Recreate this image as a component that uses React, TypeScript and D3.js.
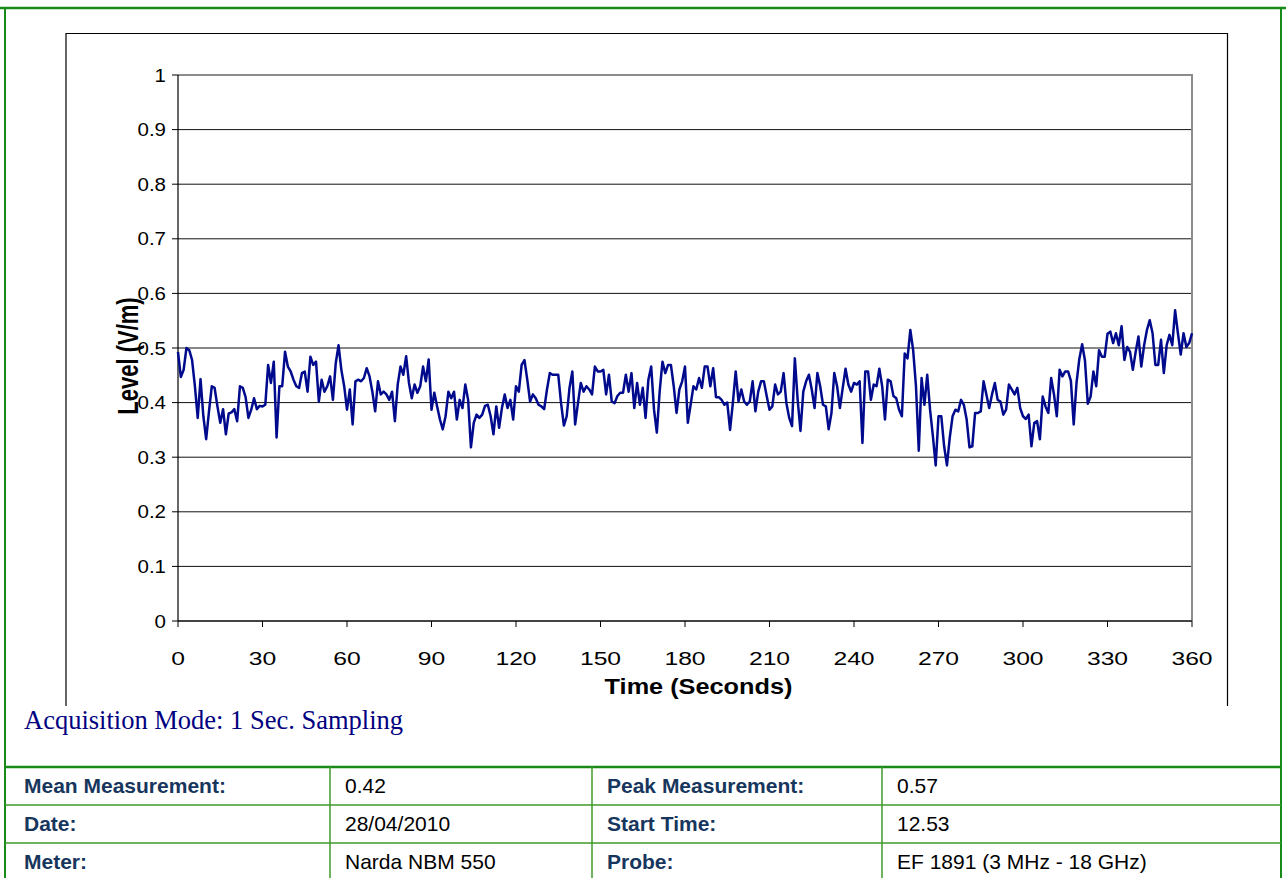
import React from "react";
import * as d3 from "d3";

const seriesLevel: number[] = [
  // 0-36
  0.493, 0.447, 0.46, 0.5, 0.496, 0.478, 0.43, 0.372, 0.443, 0.375, 0.333, 0.384, 0.43, 0.427, 0.393, 0.363, 0.388, 0.342, 0.38, 0.382,
  0.388, 0.366, 0.43, 0.427, 0.41, 0.372, 0.387, 0.408, 0.388, 0.394, 0.393, 0.396, 0.469, 0.436, 0.475, 0.336, 0.43,
  // 37-73
  0.43, 0.493, 0.466, 0.457, 0.442, 0.43, 0.427, 0.454, 0.457, 0.42, 0.484, 0.469, 0.475, 0.402, 0.442, 0.42, 0.43, 0.448, 0.405, 0.472,
  0.505, 0.46, 0.43, 0.387, 0.424, 0.36, 0.439, 0.442, 0.439, 0.445, 0.463, 0.448, 0.42, 0.384, 0.439, 0.415, 0.42,
  // 74-108
  0.415, 0.405, 0.42, 0.366, 0.433, 0.466, 0.451, 0.485, 0.436, 0.408, 0.433, 0.418, 0.43, 0.466, 0.439, 0.479, 0.387, 0.418, 0.393, 0.369,
  0.351, 0.375, 0.42, 0.408, 0.42, 0.369, 0.405, 0.39, 0.433, 0.405, 0.318, 0.363, 0.378, 0.372, 0.378,
  // 109-147
  0.394, 0.396, 0.375, 0.342, 0.393, 0.354, 0.39, 0.415, 0.39, 0.405, 0.369, 0.43, 0.42, 0.469, 0.478, 0.442, 0.402, 0.415, 0.408, 0.396,
  0.393, 0.388, 0.424, 0.454, 0.451, 0.451, 0.451, 0.399, 0.358, 0.375, 0.427, 0.457, 0.36, 0.399, 0.436, 0.42, 0.43, 0.424, 0.415,
  // 148-183
  0.466, 0.457, 0.457, 0.46, 0.415, 0.451, 0.402, 0.399, 0.412, 0.418, 0.418, 0.451, 0.42, 0.454, 0.39, 0.436, 0.396, 0.427, 0.372, 0.442,
  0.466, 0.387, 0.345, 0.42, 0.475, 0.454, 0.469, 0.469, 0.43, 0.381, 0.424, 0.439, 0.466, 0.363, 0.396, 0.43,
  // 184-220
  0.424, 0.445, 0.427, 0.466, 0.466, 0.43, 0.463, 0.41, 0.41, 0.405, 0.396, 0.4, 0.35, 0.4, 0.457, 0.402, 0.424, 0.402, 0.396, 0.402,
  0.439, 0.384, 0.42, 0.439, 0.439, 0.412, 0.387, 0.393, 0.433, 0.415, 0.42, 0.454, 0.399, 0.372, 0.357, 0.481, 0.405,
  // 221-257
  0.348, 0.42, 0.439, 0.451, 0.424, 0.39, 0.454, 0.43, 0.396, 0.393, 0.351, 0.381, 0.454, 0.43, 0.39, 0.427, 0.462, 0.433, 0.42, 0.436,
  0.433, 0.439, 0.326, 0.457, 0.457, 0.405, 0.433, 0.43, 0.462, 0.43, 0.369, 0.442, 0.439, 0.412, 0.408, 0.387, 0.375,
  // 258-294
  0.49, 0.481, 0.533, 0.496, 0.43, 0.312, 0.445, 0.396, 0.451, 0.387, 0.339, 0.285, 0.375, 0.375, 0.32, 0.285, 0.336, 0.375, 0.387, 0.384,
  0.405, 0.396, 0.369, 0.318, 0.32, 0.381, 0.381, 0.384, 0.439, 0.415, 0.39, 0.415, 0.436, 0.405, 0.402, 0.378, 0.387,
  // 295-330
  0.433, 0.424, 0.415, 0.427, 0.39, 0.375, 0.37, 0.378, 0.32, 0.363, 0.366, 0.333, 0.411, 0.393, 0.381, 0.445, 0.415, 0.375, 0.46, 0.448,
  0.457, 0.457, 0.44, 0.36, 0.436, 0.48, 0.507, 0.477, 0.398, 0.411, 0.457, 0.43, 0.496, 0.484, 0.484, 0.526,
  // 331-360
  0.53, 0.509, 0.527, 0.505, 0.54, 0.478, 0.502, 0.493, 0.46, 0.493, 0.521, 0.466, 0.505, 0.533, 0.551, 0.527, 0.469, 0.469, 0.515, 0.454,
  0.505, 0.524, 0.505, 0.569, 0.527, 0.488, 0.527, 0.502, 0.509, 0.527,
];

const yTicks: number[] = [0, 0.1, 0.2, 0.3, 0.4, 0.5, 0.6, 0.7, 0.8, 0.9, 1];
const xTicks: number[] = [0, 30, 60, 90, 120, 150, 180, 210, 240, 270, 300, 330, 360];

const xAxisTitle = "Time (Seconds)";
const yAxisTitle = "Level (V/m)";
const noteText = "Acquisition Mode: 1 Sec. Sampling";

const tableLabelsLeft: string[] = ["Mean Measurement:", "Date:", "Meter:"];
const tableValuesLeft: string[] = ["0.42", "28/04/2010", "Narda NBM 550"];
const tableLabelsRight: string[] = ["Peak Measurement:", "Start Time:", "Probe:"];
const tableValuesRight: string[] = ["0.57", "12.53", "EF 1891 (3 MHz - 18 GHz)"];

const W = 1286;
const H = 878;
const GREEN = "#178a17";
const TABLE_GREEN = "#3f9a2c";
const LINE = "#000a8c";

export default function App() {
  const x = d3.scaleLinear().domain([0, 360]).range([178, 1192]);
  const y = d3.scaleLinear().domain([0, 1]).range([621, 75]);
  const line = d3
    .line<number>()
    .x((_, i) => x(i))
    .y((d) => y(d));
  const path = line(seriesLevel) || "";

  const colX = [5, 330, 592, 882, 1281];
  const rowY = [767, 805, 843, 881];

  return (
    <svg
      width={W}
      height={H}
      style={{ position: "absolute", left: 0, top: 0, background: "#fff" }}
      fontFamily="Arial, 'Liberation Sans', sans-serif"
    >
      <rect x={0} y={0} width={W} height={H} fill="#fff" />
      {/* outer frame */}
      <line x1={0} x2={W} y1={8} y2={8} stroke={GREEN} strokeWidth={2.5} />
      <line x1={colX[0]} x2={colX[0]} y1={8} y2={H} stroke={GREEN} strokeWidth={2} />
      <line x1={1281} x2={1281} y1={8} y2={H} stroke={GREEN} strokeWidth={2} />

      {/* chart box */}
      <path d="M66,706 V33.5 H1227.5 V706" fill="none" stroke="#000" strokeWidth={1.2} />

      {/* gridlines */}
      {yTicks.map((t) => (
        <line key={"g" + t} x1={x(0)} x2={x(360)} y1={y(t)} y2={y(t)} stroke="#111" strokeWidth={1} />
      ))}
      {/* plot border */}
      <path d={`M${x(0)},${y(1)} H${x(360)} V${y(0)}`} fill="none" stroke="#8c8c8c" strokeWidth={2} />

      {/* axes */}
      <line x1={x(0)} x2={x(0)} y1={y(1)} y2={y(0)} stroke="#000" strokeWidth={1.2} />
      <line x1={x(0)} x2={x(360)} y1={y(0)} y2={y(0)} stroke="#000" strokeWidth={1.2} />
      {yTicks.map((t) => (
        <g key={"yt" + t}>
          <line x1={x(0) - 6} x2={x(0)} y1={y(t)} y2={y(t)} stroke="#000" strokeWidth={1} />
          <text
            transform={`translate(166,${y(t)}) scale(1.08,1)`}
            dy="0.35em"
            textAnchor="end"
            fontSize={19}
            fill="#000"
          >
            {d3.format("~g")(t)}
          </text>
        </g>
      ))}
      {xTicks.map((t) => (
        <g key={"xt" + t}>
          <line x1={x(t)} x2={x(t)} y1={y(0)} y2={y(0) + 6} stroke="#000" strokeWidth={1} />
          <text
            transform={`translate(${x(t)},665) scale(1.3,1)`}
            textAnchor="middle"
            fontSize={19}
            fill="#000"
          >
            {t}
          </text>
        </g>
      ))}

      {/* data line */}
      <path d={path} fill="none" stroke={LINE} strokeWidth={2.5} strokeLinejoin="round" />

      {/* axis titles */}
      <text
        transform="translate(698.5,694) scale(1.15,1)"
        textAnchor="middle"
        fontSize={22}
        fontWeight="bold"
        fill="#000"
      >
        {xAxisTitle}
      </text>
      <text
        transform="translate(138,356) scale(1.3,1) rotate(-90)"
        textAnchor="middle"
        fontSize={22}
        fontWeight="bold"
        fill="#000"
      >
        {yAxisTitle}
      </text>

      {/* note */}
      <text x={24} y={729} fontSize={26.5} fill="#000080" fontFamily="'Times New Roman', 'Liberation Serif', serif">
        {noteText}
      </text>

      {/* table */}
      <line x1={colX[0]} x2={1281} y1={rowY[0]} y2={rowY[0]} stroke={GREEN} strokeWidth={2.5} />
      {rowY.slice(1).map((ry, i) => (
        <line key={"r" + i} x1={colX[0]} x2={1281} y1={ry} y2={ry} stroke={TABLE_GREEN} strokeWidth={1.5} />
      ))}
      {colX.slice(1, 4).map((cx, i) => (
        <line key={"c" + i} x1={cx} x2={cx} y1={rowY[0]} y2={H} stroke={TABLE_GREEN} strokeWidth={1.5} />
      ))}
      {tableLabelsLeft.map((s, i) => (
        <text key={"ll" + i} x={24} y={rowY[i] + 26} fontSize={21} fontWeight="bold" fill="#17365d">
          {s}
        </text>
      ))}
      {tableValuesLeft.map((s, i) => (
        <text key={"vl" + i} x={345} y={rowY[i] + 26} fontSize={21} fill="#000">
          {s}
        </text>
      ))}
      {tableLabelsRight.map((s, i) => (
        <text key={"lr" + i} x={607} y={rowY[i] + 26} fontSize={21} fontWeight="bold" fill="#17365d">
          {s}
        </text>
      ))}
      {tableValuesRight.map((s, i) => (
        <text key={"vr" + i} x={897} y={rowY[i] + 26} fontSize={21} fill="#000">
          {s}
        </text>
      ))}
    </svg>
  );
}
